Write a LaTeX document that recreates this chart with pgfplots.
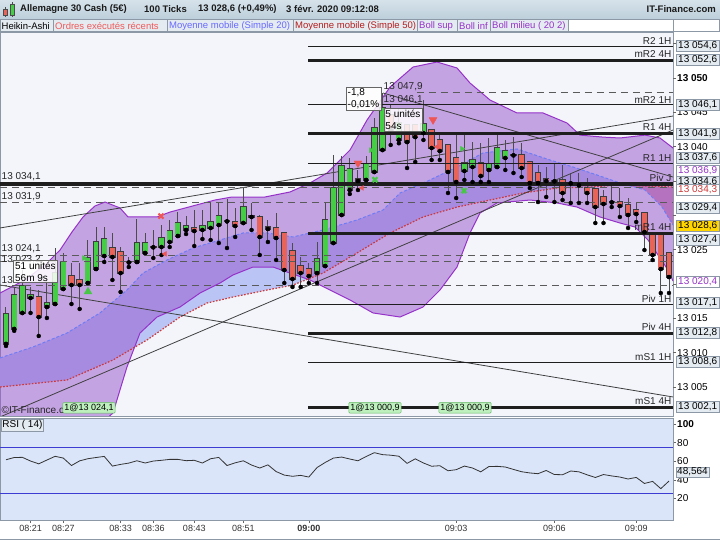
\documentclass[border=0pt]{standalone}
\usepackage{fontspec}
\setmainfont{Liberation Sans}
\usepackage{pgfplots}
\usepackage{pgfplotstable}
\pgfplotsset{compat=1.18}

\definecolor{bgmain}{RGB}{243,245,251}
\definecolor{bgrsi}{RGB}{218,229,250}
\definecolor{smablue}{RGB}{186,197,246}
\definecolor{smared}{RGB}{214,150,178}
\definecolor{bandpurple}{RGB}{150,82,205}
\definecolor{bandline}{RGB}{150,50,200}
\definecolor{smaline}{RGB}{110,125,245}
\definecolor{smafifty}{RGB}{205,55,55}
\definecolor{cgreen}{RGB}{70,205,70}
\definecolor{cred}{RGB}{232,100,88}
\definecolor{candleedge}{RGB}{60,60,60}
\definecolor{boxbg}{RGB}{228,235,241}
\definecolor{boxedge}{RGB}{140,152,165}
\definecolor{hdrtop}{RGB}{214,226,234}
\definecolor{hdrbot}{RGB}{188,206,218}
\definecolor{lvl}{RGB}{30,30,30}
\definecolor{dashc}{RGB}{90,90,90}
\definecolor{mkgreen}{RGB}{70,200,70}
\definecolor{mkred}{RGB}{238,85,85}
\definecolor{ordbox}{RGB}{190,240,190}
\definecolor{ordedge}{RGB}{100,180,100}
\definecolor{rsiline}{RGB}{60,60,210}

\newcommand{\fs}{\fontsize{10bp}{12bp}\selectfont}
\newcommand{\fsl}{\fontsize{9.5bp}{11bp}\selectfont}
\newcommand{\fss}{\fontsize{9bp}{11bp}\selectfont}

\pgfplotstableread{
i o h l c
0 13011.29 13016.67 13011.00 13015.65
1 13013.47 13019.58 13013.20 13018.41
2 13015.80 13022.05 13015.80 13019.73
3 13017.98 13019.58 13015.80 13018.41
5 13016.67 13020.60 13015.07 13017.25
6 13017.10 13025.25 13017.10 13021.61
7 13019.29 13024.53 13019.29 13023.22
10 13020.16 13026.42 13020.16 13023.80
11 13022.20 13028.31 13022.20 13026.13
12 13024.09 13028.31 13023.22 13026.56
16 13023.22 13029.48 13023.22 13025.98
17 13024.53 13027.44 13024.53 13025.98
19 13025.40 13028.60 13024.24 13026.71
20 13026.13 13029.33 13025.40 13027.73
21 13027.00 13030.49 13027.00 13028.89
22 13027.88 13029.91 13027.29 13028.46
24 13027.88 13030.79 13026.56 13028.46
25 13028.17 13031.81 13026.42 13029.04
26 13028.60 13031.95 13025.98 13029.91
29 13028.89 13033.99 13028.89 13031.22
38 13021.61 13026.13 13020.16 13023.65
39 13022.63 13031.81 13022.63 13029.33
40 13025.98 13038.79 13025.98 13033.99
41 13030.06 13038.65 13030.06 13037.19
42 13033.70 13038.36 13033.12 13036.76
44 13035.16 13038.65 13035.16 13037.48
45 13036.32 13044.18 13036.32 13042.72
46 13039.52 13047.82 13039.52 13045.64
48 13041.00 13045.50 13040.50 13043.50
51 13041.98 13046.80 13040.98 13043.31
56 13036.46 13041.69 13035.16 13037.63
57 13037.05 13040.68 13034.86 13038.07
59 13036.61 13041.27 13034.86 13037.48
60 13037.05 13041.69 13037.05 13039.81
61 13038.36 13040.98 13036.61 13039.38
}\greentab

\pgfplotstableread{
i o h l c
4 13018.12 13019.14 13012.45 13015.21
8 13021.18 13023.07 13017.10 13019.87
9 13020.60 13023.07 13016.38 13019.87
13 13025.25 13027.44 13020.60 13023.94
14 13024.67 13025.40 13018.85 13021.61
15 13023.22 13023.94 13022.49 13023.15
18 13025.40 13027.88 13023.80 13025.35
23 13028.17 13030.79 13025.55 13027.73
27 13029.18 13032.39 13025.25 13029.13
28 13029.04 13031.08 13026.86 13028.46
30 13029.91 13031.81 13027.88 13029.77
31 13029.77 13030.06 13024.24 13026.86
32 13028.31 13029.33 13026.13 13028.02
33 13028.17 13030.35 13023.51 13026.71
34 13027.44 13027.60 13020.16 13022.05
35 13024.82 13025.98 13019.58 13020.74
36 13022.63 13023.94 13019.58 13021.61
37 13022.20 13023.07 13020.16 13021.18
43 13035.30 13036.61 13033.70 13035.01
47 13044.62 13046.07 13040.25 13042.43
49 13043.16 13043.30 13036.90 13040.68
50 13043.16 13043.30 13037.78 13041.40
52 13042.43 13042.60 13038.07 13039.81
53 13040.98 13041.69 13038.07 13039.38
54 13040.25 13040.40 13033.26 13036.32
55 13038.36 13041.69 13032.53 13034.86
58 13037.63 13040.54 13034.86 13035.74
62 13038.79 13041.40 13036.17 13038.74
63 13038.79 13040.54 13035.59 13036.90
64 13037.78 13037.90 13033.99 13034.72
65 13036.17 13037.34 13031.95 13034.72
66 13035.30 13037.05 13032.68 13035.01
67 13035.01 13037.63 13031.95 13034.96
68 13035.16 13037.34 13032.24 13033.26
69 13034.72 13036.17 13031.81 13034.67
70 13034.43 13036.17 13031.81 13034.38
71 13033.99 13035.45 13031.81 13033.26
72 13033.84 13033.95 13028.89 13031.22
73 13032.68 13033.70 13028.89 13031.66
74 13031.95 13034.72 13031.22 13031.90
75 13031.95 13033.99 13029.77 13031.37
76 13031.51 13032.53 13028.17 13030.06
77 13030.79 13031.95 13029.04 13030.20
78 13030.35 13030.50 13024.96 13027.58
79 13027.44 13027.60 13023.51 13024.24
80 13027.15 13027.30 13018.70 13022.20
81 13024.53 13024.70 13018.70 13021.03
}\redtab

\pgfplotstableread{
x y
-0.733 13018.70
2.32 13020.60
4.76 13022.78
6.60 13024.96
8.06 13027.58
9.41 13029.77
10.87 13031.37
12.10 13031.95
13.93 13031.08
14.91 13029.77
18.45 13029.77
20.04 13030.49
25.53 13032.24
27.61 13032.68
31.64 13032.68
34.70 13033.41
37.14 13034.72
39.22 13036.17
42.03 13039.52
44.11 13043.89
46.92 13048.69
49.73 13051.60
52.66 13052.33
55.10 13051.46
56.69 13049.27
59.13 13046.80
62.43 13044.91
65.61 13044.91
68.54 13043.45
70.13 13041.69
72.94 13041.40
75.02 13041.27
78.07 13041.69
79.90 13041.27
81.49 13039.81
}\bollsup

\pgfplotstableread{
x y
-0.733 12999.78
6.60 12999.64
12.10 13000.22
13.07 13001.24
14.78 13007.94
16.37 13012.88
18.45 13015.21
21.26 13016.67
23.70 13018.70
26.15 13020.16
27.73 13021.33
30.18 13022.49
32.62 13022.49
34.70 13021.61
37.14 13020.60
39.58 13019.14
42.03 13017.69
44.84 13015.80
48.14 13015.21
50.95 13016.67
53.02 13019.14
55.10 13022.49
56.69 13027.44
57.91 13030.35
59.99 13031.81
64.02 13032.24
67.32 13031.81
69.76 13031.22
72.57 13029.77
75.02 13028.89
76.85 13028.31
78.44 13026.42
79.66 13024.24
80.88 13022.05
81.49 13020.45
}\bollinf

% Bollinger band as a closed outline: upper band forward, lower band backward
\pgfplotstableread{
x y
-0.733 13018.70
2.32 13020.60
4.76 13022.78
6.60 13024.96
8.06 13027.58
9.41 13029.77
10.87 13031.37
12.10 13031.95
13.93 13031.08
14.91 13029.77
18.45 13029.77
20.04 13030.49
25.53 13032.24
27.61 13032.68
31.64 13032.68
34.70 13033.41
37.14 13034.72
39.22 13036.17
42.03 13039.52
44.11 13043.89
46.92 13048.69
49.73 13051.60
52.66 13052.33
55.10 13051.46
56.69 13049.27
59.13 13046.80
62.43 13044.91
65.61 13044.91
68.54 13043.45
70.13 13041.69
72.94 13041.40
75.02 13041.27
78.07 13041.69
79.90 13041.27
81.49 13039.81
81.49 13020.45
80.88 13022.05
79.66 13024.24
78.44 13026.42
76.85 13028.31
75.02 13028.89
72.57 13029.77
69.76 13031.22
67.32 13031.81
64.02 13032.24
59.99 13031.81
57.91 13030.35
56.69 13027.44
55.10 13022.49
53.02 13019.14
50.95 13016.67
48.14 13015.21
44.84 13015.80
42.03 13017.69
39.58 13019.14
37.14 13020.60
34.70 13021.61
32.62 13022.49
30.18 13022.49
27.73 13021.33
26.15 13020.16
23.70 13018.70
21.26 13016.67
18.45 13015.21
16.37 13012.88
14.78 13007.94
13.07 13001.24
12.10 13000.22
6.60 12999.64
-0.733 12999.78
}\bandpoly

\pgfplotstableread{
x y
-0.733 13009.25
3.30 13010.85
7.45 13012.88
11.48 13015.80
14.78 13019.14
16.74 13021.61
19.67 13023.51
22.85 13025.25
26.15 13026.42
28.96 13027.44
31.89 13027.44
35.06 13026.86
38.73 13027.88
42.88 13029.33
46.06 13030.79
48.14 13033.26
51.80 13035.16
55.10 13037.05
58.28 13039.09
62.43 13039.67
66.46 13038.07
69.27 13037.05
72.21 13035.88
75.02 13034.72
78.07 13033.70
80.15 13031.22
81.49 13028.60
}\smavingt

\pgfplotstableread{
x y
-0.733 13005.02
7.45 13006.04
13.07 13008.95
17.23 13011.87
21.26 13015.21
24.56 13017.25
27.73 13018.12
31.89 13019.14
35.06 13019.87
38.73 13021.61
42.88 13024.53
46.92 13027.44
50.95 13029.77
55.10 13031.22
59.13 13032.24
63.16 13033.26
67.32 13033.99
71.35 13034.14
75.02 13034.43
81.49 13034.14
}\smacinquante

% area between the two moving averages (SMA20 above SMA50)
\pgfplotstableread{
x y
-0.733 13009.25
3.30 13010.85
7.45 13012.88
11.48 13015.80
14.78 13019.14
16.74 13021.61
19.67 13023.51
22.85 13025.25
26.15 13026.42
28.96 13027.44
31.89 13027.44
35.06 13026.86
38.73 13027.88
42.88 13029.33
46.06 13030.79
48.14 13033.26
51.80 13035.16
55.10 13037.05
58.28 13039.09
62.43 13039.67
66.46 13038.07
69.27 13037.05
72.21 13035.88
75.02 13034.72
76.02 13034.38
75.02 13034.43
71.35 13034.14
67.32 13033.99
63.16 13033.26
59.13 13032.24
55.10 13031.22
50.95 13029.77
46.92 13027.44
42.88 13024.53
38.73 13021.61
35.06 13019.87
31.89 13019.14
27.73 13018.12
24.56 13017.25
21.26 13015.21
17.23 13011.87
13.07 13008.95
7.45 13006.04
-0.733 13005.02
}\smaup

% area between the two moving averages (SMA20 below SMA50)
\pgfplotstableread{
x y
76.02 13034.38
78.07 13033.70
80.15 13031.22
81.49 13028.60
81.49 13034.14
76.02 13034.38
}\smadown

\pgfplotstableread{
i v
0 61.6
1 64.0
2 64.2
3 60.2
4 57.2
5 61.3
6 65.3
7 63.4
8 55.4
9 60.4
10 62.7
11 64.0
12 65.2
13 54.8
14 56.6
15 58.0
16 60.5
17 58.1
18 60.2
19 61.0
20 62.0
21 62.0
22 60.6
23 61.0
24 58.1
25 62.7
26 64.1
27 55.4
28 58.3
29 60.5
30 55.9
31 52.7
32 56.1
33 48.9
34 45.1
35 43.8
36 44.8
37 43.0
38 53.2
39 58.7
40 63.4
41 64.5
42 62.4
43 60.5
44 65.1
45 69.2
46 67.1
47 66.5
48 65.4
49 57.7
50 62.6
51 58.1
52 54.6
53 55.2
54 49.8
55 50.9
56 54.8
57 52.7
58 48.6
59 54.3
60 54.5
61 53.8
62 51.2
63 48.7
64 47.4
65 46.6
66 50.1
67 45.7
68 45.5
69 49.5
70 48.6
71 45.4
72 42.5
73 45.7
74 44.2
75 43.0
76 40.9
77 42.6
78 36.1
79 38.3
80 30.5
81 38.7
}\rsitab

\begin{document}
\begin{tikzpicture}
\path[use as bounding box] (0,0) rectangle (720bp,540bp);
\fill[white] (0,0) rectangle (720bp,540bp);

% ================= MAIN PRICE PANEL (plots, clipped) =================
\begin{axis}[
  at={(0bp,124bp)}, anchor=south west,
  width=673bp, height=384bp, scale only axis,
  xmin=-0.733, xmax=81.49, ymin=13000.80, ymax=13056.70,
  axis background/.style={fill=bgmain},
  axis line style={draw=boxedge},
  xtick=\empty, ytick=\empty,
]
% --- moving average fills and bollinger band
\addplot[fill=smablue, draw=none, forget plot] table[x=x,y=y] {\smaup};
\addplot[fill=smared, draw=none, forget plot] table[x=x,y=y] {\smadown};
\addplot[fill=bandpurple, fill opacity=0.5, draw=none, forget plot] table[x=x,y=y] {\bandpoly};
\addplot[bandline, line width=1bp, forget plot] table[x=x,y=y] {\bollsup};
\addplot[bandline, line width=1bp, forget plot] table[x=x,y=y] {\bollinf};
\addplot[smaline, line width=1bp, dash pattern=on 3bp off 2bp, forget plot] table[x=x,y=y] {\smavingt};
\addplot[smafifty, line width=1.2bp, dash pattern=on 1.6bp off 1.6bp, forget plot] table[x=x,y=y] {\smacinquante};

% --- trend lines
\addplot[black!75, line width=0.8bp, forget plot] coordinates {(-0.733,13028.17) (81.49,13044.47)};
\addplot[black!75, line width=0.8bp, forget plot] coordinates {(-0.733,13019.87) (81.49,13003.57)};
\addplot[black!75, line width=0.8bp, forget plot] coordinates {(-0.733,13000.66) (81.49,13042.43)};
\addplot[black!75, line width=0.8bp, forget plot] coordinates {(46.06,13047.82) (81.49,13035.59)};

% --- candles: wicks
\addplot[only marks, mark=none, forget plot, error bars/.cd, y dir=plus, y explicit, error mark=none,
  error bar style={line width=1bp, color=black!70}]
  table[x=i, y=l, y error expr=\thisrow{h}-\thisrow{l}] {\greentab};
\addplot[only marks, mark=none, forget plot, error bars/.cd, y dir=plus, y explicit, error mark=none,
  error bar style={line width=1bp, color=black!70}]
  table[x=i, y=l, y error expr=\thisrow{h}-\thisrow{l}] {\redtab};
% --- candles: body outlines
\addplot[only marks, mark=none, forget plot, error bars/.cd, y dir=plus, y explicit, error mark=none,
  error bar style={line width=6.4bp, color=candleedge, shorten <=-0.7bp, shorten >=-0.7bp}]
  table[x=i, y=o, y error expr=\thisrow{c}-\thisrow{o}] {\greentab};
\addplot[only marks, mark=none, forget plot, error bars/.cd, y dir=plus, y explicit, error mark=none,
  error bar style={line width=6.4bp, color=candleedge, shorten <=-0.7bp, shorten >=-0.7bp}]
  table[x=i, y=c, y error expr=\thisrow{o}-\thisrow{c}] {\redtab};
% --- candles: body fills
\addplot[only marks, mark=none, forget plot, error bars/.cd, y dir=plus, y explicit, error mark=none,
  error bar style={line width=4.8bp, color=cgreen}]
  table[x=i, y=o, y error expr=\thisrow{c}-\thisrow{o}] {\greentab};
\addplot[only marks, mark=none, forget plot, error bars/.cd, y dir=plus, y explicit, error mark=none,
  error bar style={line width=4.8bp, color=cred}]
  table[x=i, y=c, y error expr=\thisrow{o}-\thisrow{c}] {\redtab};

% --- pivot levels
\addplot[dashc, line width=1bp, dash pattern=on 7bp off 5bp, forget plot] coordinates {(50.2,13047.9) (81.49,13047.9)};
\addplot[dashc, line width=1bp, dash pattern=on 7bp off 5bp, forget plot] coordinates {(-0.733,13034.1) (81.49,13034.1)};
\addplot[dashc, line width=1bp, dash pattern=on 7bp off 5bp, forget plot] coordinates {(-0.733,13031.9) (81.49,13031.9)};
\addplot[dashc, line width=1bp, dash pattern=on 7bp off 5bp, forget plot] coordinates {(-0.733,13024.1) (81.49,13024.1)};
\addplot[dashc, line width=1bp, dash pattern=on 7bp off 5bp, forget plot] coordinates {(-0.733,13023.3) (81.49,13023.3)};
\addplot[dashc, line width=1bp, dash pattern=on 7bp off 5bp, forget plot] coordinates {(-0.733,13019.8) (81.49,13019.8)};
\addplot[lvl, line width=0.8bp, forget plot] coordinates {(36.9,13054.6) (81.49,13054.6)};
\addplot[lvl, line width=3bp, forget plot] coordinates {(36.9,13052.6) (81.49,13052.6)};
\addplot[lvl, line width=0.8bp, forget plot] coordinates {(36.9,13046.1) (81.49,13046.1)};
\addplot[lvl, line width=3bp, forget plot] coordinates {(36.9,13041.9) (81.49,13041.9)};
\addplot[lvl, line width=0.8bp, forget plot] coordinates {(36.9,13037.6) (81.49,13037.6)};
\addplot[lvl, line width=3.5bp, forget plot] coordinates {(-0.733,13034.6) (81.49,13034.6)};
\addplot[lvl, line width=3bp, forget plot] coordinates {(36.9,13027.4) (81.49,13027.4)};
\addplot[lvl, line width=0.8bp, forget plot] coordinates {(36.9,13017.1) (81.49,13017.1)};
\addplot[lvl, line width=3bp, forget plot] coordinates {(36.9,13012.8) (81.49,13012.8)};
\addplot[lvl, line width=0.8bp, forget plot] coordinates {(36.9,13008.6) (81.49,13008.6)};
\addplot[lvl, line width=3bp, forget plot] coordinates {(36.9,13002.1) (81.49,13002.1)};

% --- executed orders markers
\addplot[only marks, mark=triangle*, mark size=4.5bp, color=mkgreen, forget plot] coordinates {(10.02,13018.9)};
\addplot[only marks, mark=triangle*, mark size=4.5bp, color=mkred, mark options={rotate=180}, forget plot] coordinates {(43.0,13037.6) (52.17,13043.9)};
\addplot[only marks, mark=x, mark size=3.5bp, color=mkred, mark options={line width=2.2bp}, forget plot] coordinates {(18.94,13029.9)};
\addplot[only marks, mark=x, mark size=3.5bp, color=mkgreen, mark options={line width=2.2bp}, forget plot] coordinates {(45.08,13035.2) (55.96,13033.6)};
\addplot[only marks, mark=triangle*, mark size=2.8bp, color=mkred, mark options={rotate=90}, forget plot] coordinates {(19.43,13024.4) (43.5,13034.0) (52.66,13040.0)};
\addplot[only marks, mark=triangle*, mark size=2.8bp, color=mkgreen, mark options={rotate=-90}, forget plot] coordinates {(9.53,13023.8) (44.6,13039.5) (55.71,13039.7)};
\end{axis}

% ================= MAIN PRICE PANEL (labels, ticks, not clipped) =================
\begin{axis}[
  at={(0bp,124bp)}, anchor=south west,
  width=673bp, height=384bp, scale only axis,
  xmin=-0.733, xmax=81.49, ymin=13000.80, ymax=13056.70,
  axis line style={draw=none},
  xtick=\empty,
  ytick={13005,13010,13015,13020,13025,13030,13035,13040,13045,13050,13055},
  yticklabels={13 005,13 010,13 015,{},13 025,{},{},13 040,13 045,\textbf{13 050},{}},
  ytick pos=right, yticklabel pos=right,
  tick align=outside, major tick length=3bp,
  tick style={draw=black!60, line width=0.6bp},
  yticklabel style={font=\fs, inner xsep=1bp},
  clip=false,
]
% --- level names on the right
\begin{scope}[every node/.style={font=\fs, inner sep=0.5bp, anchor=south east, text=black!85}]
\node at (axis cs:81.49,13054.6) [xshift=-1bp, yshift=1bp] {R2 1H};
\node at (axis cs:81.49,13052.6) [xshift=-1bp, yshift=2bp] {mR2 4H};
\node at (axis cs:81.49,13046.1) [xshift=-1bp, yshift=1bp] {mR2 1H};
\node at (axis cs:81.49,13041.9) [xshift=-1bp, yshift=2bp] {R1 4H};
\node at (axis cs:81.49,13037.6) [xshift=-1bp, yshift=1bp] {R1 1H};
\node at (axis cs:81.49,13034.6) [xshift=-1bp, yshift=2bp] {Piv J};
\node at (axis cs:81.49,13027.4) [xshift=-1bp, yshift=2bp] {mR1 4H};
\node at (axis cs:81.49,13017.1) [xshift=-1bp, yshift=1bp] {Piv 1H};
\node at (axis cs:81.49,13012.8) [xshift=-1bp, yshift=2bp] {Piv 4H};
\node at (axis cs:81.49,13008.6) [xshift=-1bp, yshift=1bp] {mS1 1H};
\node at (axis cs:81.49,13002.1) [xshift=-1bp, yshift=2bp] {mS1 4H};
\end{scope}
% --- left labels
\begin{scope}[every node/.style={font=\fs, inner sep=0.5bp, anchor=south west, text=black!85}]
\node at (axis cs:-0.733,13034.6) [xshift=1bp, yshift=2bp] {13 034,1};
\node at (axis cs:-0.733,13031.9) [xshift=1bp, yshift=1bp] {13 031,9};
\node at (axis cs:-0.733,13024.1) [xshift=1bp, yshift=2.5bp] {13 024,1};
\node at (axis cs:-0.733,13023.3) [xshift=1bp, yshift=-3bp] {13 023,2};
\node at (axis cs:-0.733,13019.8) [xshift=1bp, yshift=1bp] {13};
\node at (axis cs:-0.733,13001.0) [xshift=1bp, yshift=0bp] {©IT-Finance.com};
\node at (axis cs:46.06,13048.0) [xshift=0bp] {13 047,9};
\node at (axis cs:46.06,13046.1) [xshift=0bp] {13 046,1};
\end{scope}
% --- annotation boxes
\node[draw=black!60, fill=white, fill opacity=0.85, text opacity=1, font=\fs, align=left, inner sep=1.5bp] at (axis cs:3.60,13021.84) {51 unités\\56m 9s};
\node[draw=black!60, fill=white, fill opacity=0.85, text opacity=1, font=\fs, align=left, inner sep=1.5bp] at (axis cs:43.68,13047.02) {-1,8\\-0,01\%};
\node[draw=black!60, fill=white, fill opacity=0.85, text opacity=1, font=\fs, align=left, inner sep=1.5bp] at (axis cs:48.50,13043.96) {5 unités\\54s};
\node[draw=ordedge, fill=ordbox, font=\fss, inner sep=1.5bp, rounded corners=1bp] at (axis cs:10.14,13002.0) {1@13 024,1};
\node[draw=ordedge, fill=ordbox, font=\fss, inner sep=1.5bp, rounded corners=1bp] at (axis cs:45.08,13002.0) {1@13 000,9};
\node[draw=ordedge, fill=ordbox, font=\fss, inner sep=1.5bp, rounded corners=1bp] at (axis cs:56.08,13002.0) {1@13 000,9};

% --- right price boxes
\begin{scope}[every node/.style={font=\fs, inner sep=1bp, anchor=west, draw=boxedge, fill=boxbg, text=black, xshift=3bp, minimum width=43bp, minimum height=11bp}]
\node at (axis cs:81.49,13054.66) {13 054,6};
\node at (axis cs:81.49,13052.62) {13 052,6};
\node at (axis cs:81.49,13046.07) {13 046,1};
\node at (axis cs:81.49,13041.85) {13 041,9};
\node at (axis cs:81.49,13038.36) {13 037,6};
\node[text=bandline, fill=white] at (axis cs:81.49,13036.46) {13 036,9};
\node at (axis cs:81.49,13034.86) {13 034,6};
\node[text=smafifty, fill=white] at (axis cs:81.49,13033.70) {13 034,3};
\node at (axis cs:81.49,13031.08) {13 029,4};
\node[fill={rgb,255:red,255;green,214;blue,0}] at (axis cs:81.49,13028.46) {13 028,6};
\node at (axis cs:81.49,13026.42) {13 027,4};
\node[text=bandline, fill=white] at (axis cs:81.49,13020.31) {13 020,4};
\node at (axis cs:81.49,13017.25) {13 017,1};
\node at (axis cs:81.49,13012.88) {13 012,8};
\node at (axis cs:81.49,13008.66) {13 008,6};
\node at (axis cs:81.49,13002.11) {13 002,1};
\end{scope}
\end{axis}

% ================= RSI PANEL =================
\begin{axis}[
  at={(0bp,20bp)}, anchor=south west,
  width=673bp, height=102bp, scale only axis,
  xmin=-0.733, xmax=81.49, ymin=-3.2, ymax=106.5,
  axis background/.style={fill=bgrsi},
  axis line style={draw=boxedge},
  xtick={3,7,14,18,23,29,37,55,67,77},
  xticklabels={08:21,08:27,08:33,08:36,08:43,08:51,\textbf{09:00},09:03,09:06,09:09},
  xtick pos=left,
  ytick={20,40,60,80,100},
  yticklabels={20,40,60,80,\textbf{100}},
  ytick pos=right, yticklabel pos=right,
  tick align=outside, major tick length=3bp,
  tick style={draw=black!60, line width=0.6bp},
  xticklabel style={font=\fss, text=black!80, yshift=1bp},
  yticklabel style={font=\fs, inner xsep=1bp},
  clip=false,
]
\addplot[rsiline, line width=0.9bp, forget plot] coordinates {(-0.733,75) (81.49,75)};
\addplot[rsiline, line width=0.9bp, forget plot] coordinates {(-0.733,25) (81.49,25)};
\addplot[black!80, line width=0.8bp, forget plot] table[x=i,y=v] {\rsitab};
\node[font=\fs, inner sep=1.2bp, anchor=north west, draw=boxedge, fill=boxbg] at (rel axis cs:0,1) [xshift=1bp, yshift=-1bp] {RSI ( 14)};
\node[font=\fs, inner sep=1bp, anchor=west, draw=boxedge, fill=boxbg, xshift=3bp] at (axis cs:81.49,48.6) {48,564};
\end{axis}

% ================= HEADER =================
\begin{scope}[x=1bp, y=1bp]
\shade[top color=hdrtop, bottom color=hdrbot] (0,520.5) rectangle (720,540);
\draw[boxedge] (0,520.5) -- (720,520.5);
% small icon
\draw[black!70, line width=0.6] (5,523) -- (5,533);
\fill[cred, draw=black!70, line width=0.5] (3.2,525) rectangle (6.8,530.5);
\draw[black!70, line width=0.6] (12.5,523) -- (12.5,538);
\fill[cgreen, draw=black!70, line width=0.5] (10.5,525) rectangle (14.5,535.5);
\begin{scope}[every node/.style={font=\bfseries\fsl, anchor=west, inner sep=0, text=black!90}]
\node at (20,530.5) {Allemagne 30 Cash (5€)};
\node at (144,530.5) {100 Ticks};
\node at (198,530.5) {13 028,6 (+0,49\%)};
\node at (286,530.5) {3 févr. 2020 09:12:08};
\node[anchor=east] at (716,530.5) {IT-Finance.com};
\end{scope}
% legend row
\begin{scope}[every node/.style={font=\fsl, anchor=west, inner sep=0}]
\draw[boxedge, fill=boxbg] (0,508.5) rectangle (53,520.5);
\node[text=black] at (1.5,514.3) {Heikin-Ashi};
\draw[boxedge, fill=boxbg] (53,508.5) rectangle (167,520.5);
\node[text={rgb,255:red,240;green,90;blue,90}] at (55,514.3) {Ordres exécutés récents};
\draw[boxedge, fill=boxbg] (167,508.5) rectangle (293,520.5);
\node[text={rgb,255:red,105;green,105;blue,255}] at (169,514.3) {Moyenne mobile (Simple 20)};
\draw[boxedge, fill=boxbg] (293,508.5) rectangle (417,520.5);
\node[text={rgb,255:red,180;green,30;blue,30}] at (295,514.3) {Moyenne mobile (Simple 50)};
\draw[boxedge, fill=boxbg] (417,508.5) rectangle (457,520.5);
\node[text=bandline] at (419,514.3) {Boll sup};
\draw[boxedge, fill=boxbg] (457,508.5) rectangle (490,520.5);
\node[text=bandline] at (459,514.3) {Boll inf};
\draw[boxedge, fill=boxbg] (490,508.5) rectangle (568,520.5);
\node[text=bandline] at (492,514.3) {Boll milieu ( 20 2)};
\draw[boxedge, fill=white] (568,508.5) rectangle (673,520.5);
\draw[boxedge, fill=white] (673,508.5) rectangle (719.5,520.5);
\end{scope}
\draw[boxedge] (0,0.5) -- (720,0.5);
\end{scope}
\end{tikzpicture}
\end{document}
